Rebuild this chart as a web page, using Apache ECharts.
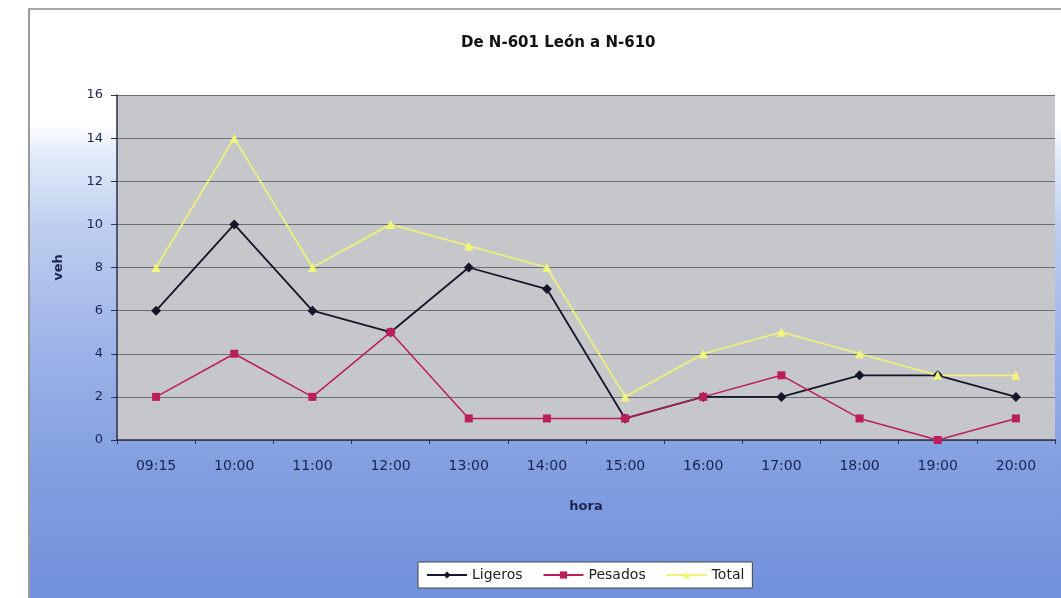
<!DOCTYPE html>
<html>
<head>
<meta charset="utf-8">
<script src="https://cdn.jsdelivr.net/npm/echarts@6/dist/echarts.min.js"></script>
<style>
html,body{margin:0;padding:0;background:#fff;}
#bg{position:absolute;left:28px;top:8px;width:1040px;height:600px;border-left:2px solid #9a9a9a;border-top:2px solid #a8a8a8;
background:linear-gradient(to bottom,#ffffff 0%,#ffffff 19%,#e3ebf9 24%,#bccdef 37%,#9db4e8 56%,#829fe0 76%,#6f8fdb 100%);}
#main{position:absolute;left:0;top:0;width:1061px;height:598px;}
</style>
</head>
<body>
<div id="bg"></div>
<div id="main"></div>
<script>
const categories = ["09:15","10:00","11:00","12:00","13:00","14:00","15:00","16:00","17:00","18:00","19:00","20:00"];
const ligeros = [6,10,6,5,8,7,1,2,2,3,3,2];
const pesados = [2,4,2,5,1,1,1,2,3,1,0,1];
const total = [8,14,8,10,9,8,2,4,5,4,3,3];
const yTicks = [0,2,4,6,8,10,12,14,16];

const chart = echarts.init(document.getElementById('main'));
const txt = '#1c2450';
const ff = 'DejaVu Sans';
chart.setOption({
  backgroundColor: 'transparent',
  animation: false,
  title: {
    text: 'De N-601 León a N-610',
    left: 456, top: 31,
    textStyle: {fontFamily: ff, fontSize: 15, fontWeight: 'bold', color: '#111'}
  },
  legend: {
    data: ['Ligeros','Pesados','Total'],
    left: 418, top: 562,
    backgroundColor: '#fff', borderColor: '#444', borderWidth: 1,
    padding: [6, 8], itemGap: 20, itemWidth: 40, itemHeight: 9,
    textStyle: {fontFamily: ff, fontSize: 14, color: '#222'}
  },
  grid: {left: 117, right: 6, top: 95, bottom: 158, show: true, backgroundColor: '#c6c7cb', borderWidth: 0},
  xAxis: {
    type: 'category', data: categories, boundaryGap: true,
    name: 'hora', nameLocation: 'middle', nameGap: 60,
    nameTextStyle: {fontFamily: ff, fontSize: 13, fontWeight: 'bold', color: txt},
    axisLine: {lineStyle: {color: '#2a3050', width: 1.5}},
    axisTick: {show: true, length: 4, lineStyle: {color: '#2a3050'}},
    axisLabel: {fontFamily: ff, fontSize: 14, color: txt, margin: 19},
    splitLine: {show: false}
  },
  yAxis: {
    type: 'value', min: 0, max: 16, interval: 2,
    name: 'veh', nameLocation: 'middle', nameGap: 52, nameRotate: 90,
    nameTextStyle: {fontFamily: ff, fontSize: 13, fontWeight: 'bold', color: txt},
    axisLine: {show: true, lineStyle: {color: '#2a3050', width: 1.5}},
    axisTick: {show: true, length: 6, lineStyle: {color: '#2a3050'}},
    axisLabel: {fontFamily: ff, fontSize: 13, color: txt, margin: 14,
      formatter: v => yTicks.includes(v) ? String(v) : ''},
    splitLine: {show: true, lineStyle: {color: '#6c6e74', width: 1.2}}
  },
  series: [
    {name: 'Ligeros', type: 'line', data: ligeros, symbol: 'diamond', symbolSize: 10,
      itemStyle: {color: '#14162a'}, lineStyle: {color: '#14162a', width: 1.8}},
    {name: 'Pesados', type: 'line', data: pesados, symbol: 'rect', symbolSize: 8,
      itemStyle: {color: '#bc1e5c'}, lineStyle: {color: '#bc1e5c', width: 1.5}},
    {name: 'Total', type: 'line', data: total, symbol: 'triangle', symbolSize: 9,
      itemStyle: {color: '#f2f77a'}, lineStyle: {color: '#eef27a', width: 1.8}}
  ]
});
</script>
</body>
</html>
